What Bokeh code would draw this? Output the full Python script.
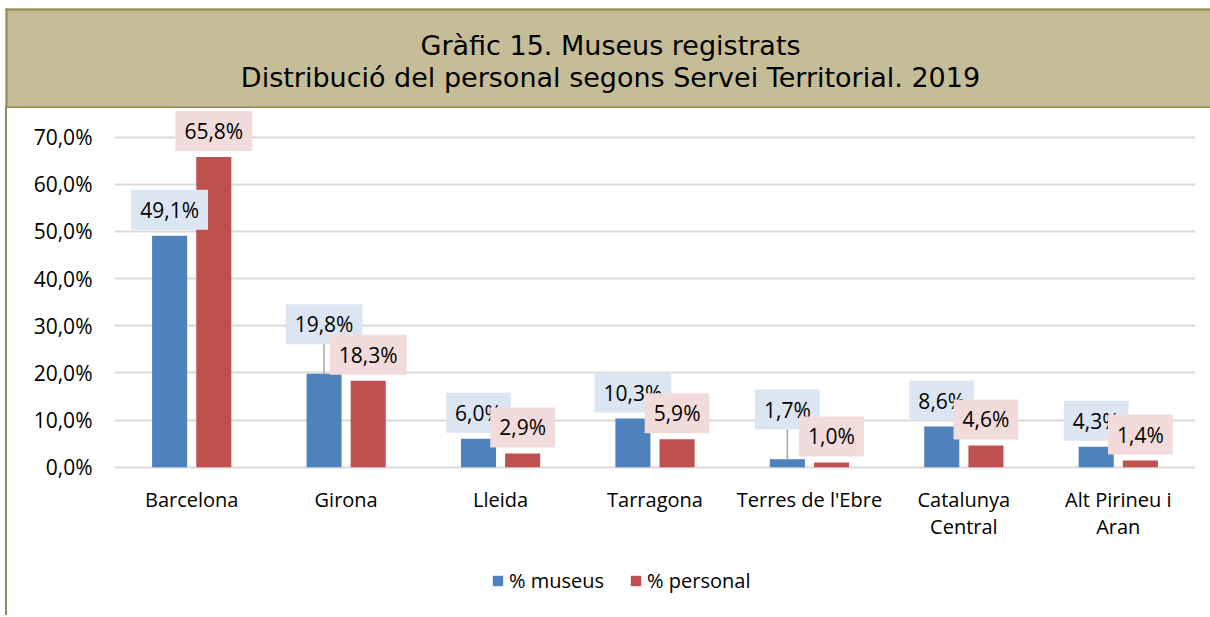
from bokeh.plotting import figure
from bokeh.models import (FactorRange, Range1d, FixedTicker, Legend, LegendItem,
                          ColumnDataSource, Div)
from bokeh.transform import dodge
from bokeh.layouts import column, row
from bokeh.core.properties import value
from bokeh.embed import file_html
from bokeh.resources import INLINE

# ---------------- data ----------------
title_lines = ["Gràfic 15. Museus registrats",
               "Distribució del personal segons Servei Territorial. 2019"]
categories = ["Barcelona", "Girona", "Lleida", "Tarragona", "Terres de l'Ebre",
              "Catalunya\nCentral", "Alt Pirineu i\nAran"]
museus = [49.1, 19.8, 6.0, 10.3, 1.7, 8.6, 4.3]
personal = [65.8, 18.3, 2.9, 5.9, 1.0, 4.6, 1.4]
series_names = ["% museus", "% personal"]
y_ticks = [0, 10, 20, 30, 40, 50, 60, 70]
y_tick_labels = ["0,0%", "10,0%", "20,0%", "30,0%", "40,0%", "50,0%", "60,0%", "70,0%"]
# labels that were dragged upward (with leader line), in data units
museus_label_lift = [0, 5.0, 0, 0, 5.0, 0, 0]

# ---------------- style ----------------
BLUE = "#4F81BD"
RED = "#C0504D"
BLUE_BOX = "#DCE6F2"
RED_BOX = "#F2DCDB"
OLIVE = "#948A54"
TAN = "#C4BD97"
GRID = "#D9D9D9"
PAGE_W = 1210
TITLE_H = 108
CW = PAGE_W - 7           # chart column width (after 5px margin + 2px border)
CHART_H = 450
LEG_H = 57
PPU = 330 / 70.0          # pixels per percentage point
Y_START = -0.5
FRAME_H = 361
Y_END = Y_START + FRAME_H / PPU
LABEL_GAP = 7             # px between bar top and label box
LABEL_HALF = 19           # half label box height


def fmt(v):
    return f"{v:.1f}".replace(".", ",") + "%"


# ---------------- title block ----------------
tf = figure(width=PAGE_W, height=TITLE_H, x_range=Range1d(0, PAGE_W),
            y_range=Range1d(TITLE_H, 0), min_border=0, toolbar_location=None,
            output_backend="svg", x_axis_location=None, y_axis_location=None,
            background_fill_color="white", border_fill_color="white",
            outline_line_color=None)
tf.grid.visible = False
tf.quad(left=[5], right=[PAGE_W], top=[8], bottom=[107], fill_color=TAN, line_color=None)
tf.segment(x0=[5, 5, 6], y0=[9, 107, 8], x1=[PAGE_W, PAGE_W, 6], y1=[9, 107, TITLE_H],
           line_color=OLIVE, line_width=2)
tf.text(x=[610, 610], y=[45, 77], text=title_lines, text_font=value("DejaVu Sans"),
        text_font_size="27px", text_align="center", text_baseline="alphabetic",
        text_color="black")

# ---------------- chart ----------------
src = ColumnDataSource(dict(
    cat=categories, museus=museus, personal=personal,
    m_lab=[fmt(v) for v in museus], p_lab=[fmt(v) for v in personal],
    m_y=[v + l for v, l in zip(museus, museus_label_lift)],
))
lift_idx = [i for i, l in enumerate(museus_label_lift) if l > 0]
lead_src = ColumnDataSource(dict(
    cat=[categories[i] for i in lift_idx],
    y0=[museus[i] for i in lift_idx],
    y1=[museus[i] + museus_label_lift[i] + LABEL_GAP / PPU for i in lift_idx],
))

cf = figure(width=CW, height=CHART_H, x_range=FactorRange(*categories),
            y_range=Range1d(Y_START, Y_END),
            min_border_left=107, min_border_right=15, min_border_top=0,
            min_border_bottom=CHART_H - FRAME_H,
            toolbar_location=None, output_backend="svg", outline_line_color=None)

OFF = 0.143
BW = 0.227
cf.vbar(x=dodge("cat", -OFF, range=cf.x_range), top="museus", width=BW,
        source=src, fill_color=BLUE, line_color=None)
cf.vbar(x=dodge("cat", OFF, range=cf.x_range), top="personal", width=BW,
        source=src, fill_color=RED, line_color=None)

cf.segment(x0=dodge("cat", -OFF, range=cf.x_range), y0="y0",
           x1=dodge("cat", -OFF, range=cf.x_range), y1="y1",
           source=lead_src, line_color="#A6A6A6", line_width=1.5)

common = dict(text_align="center", text_baseline="middle", text_font=value("Open Sans"),
              text_font_size="21px", text_color="black", border_line_color=None,
              y_offset=-(LABEL_GAP + LABEL_HALF), padding=(9, 6))
cf.text(x=dodge("cat", -OFF, range=cf.x_range), y="m_y", text="m_lab", source=src,
        background_fill_color=BLUE_BOX, **common)
cf.text(x=dodge("cat", OFF, range=cf.x_range), y="personal", text="p_lab", source=src,
        background_fill_color=RED_BOX, **common)

ticker = FixedTicker(ticks=y_ticks)
cf.yaxis.ticker = ticker
cf.ygrid.ticker = ticker
cf.yaxis.major_label_overrides = dict(zip(y_ticks, y_tick_labels))
cf.ygrid.grid_line_color = GRID
cf.ygrid.grid_line_width = 2
cf.xgrid.grid_line_color = None
for ax in (cf.xaxis, cf.yaxis):
    ax.axis_line_color = None
    ax.major_tick_line_color = None
    ax.minor_tick_line_color = None
    ax.major_tick_out = 0
    ax.major_tick_in = 0
    ax.major_label_text_font = "Open Sans"
    ax.major_label_text_color = "black"
cf.yaxis.major_label_text_font_size = "21px"
cf.yaxis.major_label_standoff = 22
cf.xaxis.major_label_text_font_size = "20px"
cf.xaxis.major_label_standoff = 16
cf.xaxis.major_label_text_line_height = 1.03

# ---------------- legend strip (frame aligned with the chart frame) ----------------
# legend proxies: same series, zero-width and outside the strip's range (not visible)
lf = figure(width=CW, height=LEG_H, x_range=cf.x_range, y_range=Range1d(-200, -199),
            min_border=0, x_axis_location=None, y_axis_location=None,
            toolbar_location=None, output_backend="svg", outline_line_color=None)
lf.grid.visible = False
lb = lf.vbar(x=dodge("cat", -OFF, range=lf.x_range), top="museus", width=0,
             source=src, fill_color=BLUE, line_color=None)
lr = lf.vbar(x=dodge("cat", OFF, range=lf.x_range), top="personal", width=0,
             source=src, fill_color=RED, line_color=None)
legend = Legend(items=[LegendItem(label=series_names[0], renderers=[lb]),
                       LegendItem(label=series_names[1], renderers=[lr])],
                orientation="horizontal", location=(377, 21),
                glyph_width=13, glyph_height=13, label_standoff=5, spacing=25,
                padding=0, margin=0, border_line_color=None, background_fill_alpha=0,
                label_text_font="Open Sans", label_text_font_size="20px",
                label_text_color="black")
lf.add_layout(legend, "center")

left_bar = Div(width=2, height=CHART_H + LEG_H, margin=(0, 0, 0, 5),
               styles={"background-color": OLIVE})
layout = column(tf, row(left_bar, column(cf, lf, spacing=0), spacing=0), spacing=0)

open("out.html", "w").write(file_html(layout, INLINE))
